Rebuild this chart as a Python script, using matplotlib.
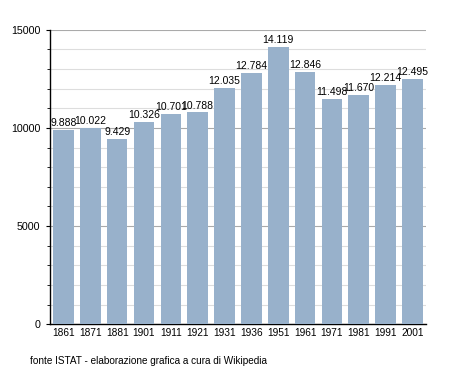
import matplotlib

matplotlib.use("Agg")
import matplotlib.pyplot as plt
from matplotlib.ticker import MultipleLocator

plt.rcParams["font.family"] = ["Liberation Sans", "DejaVu Sans"]

years = ["1861", "1871", "1881", "1901", "1911", "1921", "1931",
         "1936", "1951", "1961", "1971", "1981", "1991", "2001"]
population = [9888, 10022, 9429, 10326, 10701, 10788, 12035,
              12784, 14119, 12846, 11498, 11670, 12214, 12495]

BAR_COLOR = "#98b1cb"

fig = plt.figure(figsize=(4.55, 3.73), dpi=100)
ax = fig.add_axes([0.11, 0.131, 0.826, 0.789])

x = list(range(len(years)))
ax.bar(x, population, width=0.77, color=BAR_COLOR, zorder=3)

for xi, val in zip(x, population):
    label = f"{val:,}".replace(",", ".")
    ax.text(xi, val + 100, label, ha="center", va="bottom", fontsize=7.5, zorder=4)

ax.set_xlim(-0.5, len(years) - 0.5)
ax.set_ylim(0, 15000)
ax.set_xticks(x, years)
ax.tick_params(axis="x", length=0, labelsize=7.3, pad=3)
ax.yaxis.set_major_locator(MultipleLocator(5000))
ax.yaxis.set_minor_locator(MultipleLocator(1000))
ax.tick_params(axis="y", which="major", length=3, labelsize=7.7, pad=4)
ax.tick_params(axis="y", which="minor", length=2.5)

ax.grid(axis="y", which="minor", color="#dddddd", linewidth=0.8, zorder=0)
ax.grid(axis="y", which="major", color="#aaaaaa", linewidth=0.8, zorder=1)

ax.spines["top"].set_visible(False)
ax.spines["right"].set_visible(False)
ax.spines["left"].set_linewidth(1.0)
ax.spines["bottom"].set_linewidth(1.0)

fig.text(30 / 455, 1 - 361 / 373, "fonte ISTAT - elaborazione grafica a cura di Wikipedia",
         fontsize=7.2, va="center", ha="left")

fig.savefig("out.png", dpi=100)
